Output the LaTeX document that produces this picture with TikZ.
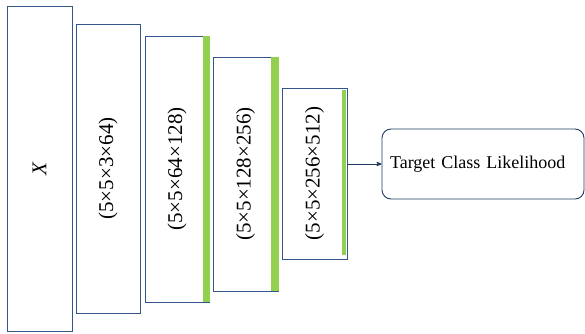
\documentclass[tikz,border=0pt]{standalone}
\usepackage{fontspec}
\setmainfont{Liberation Serif}
\usetikzlibrary{arrows}
\definecolor{boxline}{RGB}{52,84,140}
\definecolor{outline}{RGB}{31,56,100}
\definecolor{bargreen}{RGB}{146,208,80}

\begin{document}
\begin{tikzpicture}[x=1pt,y=-1pt,>=stealth',line width=0.9pt]

        \tikzstyle{layer}=[draw=boxline,fill=white,inner sep=0pt,font=\fontsize{21}{25}\selectfont]
        \tikzstyle{outbox}=[draw=outline,rounded corners=9pt,inner sep=8pt,text width=186pt,align=left,minimum height=70pt,font=\fontsize{18}{22}\selectfont]

        \useasboundingbox (0,0) rectangle (585,333);

        \node[layer, minimum width=65pt, minimum height=325pt] (0) at (39.5,168.5) {\rotatebox{90}{\textit{X}}};
        \node[layer, minimum width=64pt, minimum height=289pt] (1) at (108,168.5)  {\rotatebox{90}{(5×5×3×64)}};
        \node[layer, minimum width=64pt, minimum height=266pt] (2) at (177,169)    {\rotatebox{90}{(5×5×64×128)}};
        \node[layer, minimum width=65pt, minimum height=234pt] (3) at (245.5,174)  {\rotatebox{90}{(5×5×128×256)}};
        \node[layer, minimum width=65pt, minimum height=171pt] (4) at (314.5,173.5){\rotatebox{90}{(5×5×256×512)}};

        \node[outbox] (5) at (483,164) {Target Class Likelihood};

        % green strips
        \fill[bargreen] ([xshift=-6pt]2.north east) rectangle ([xshift=0.5pt]2.south east);
        \fill[bargreen] ([xshift=-7pt]3.north east) rectangle ([xshift=0.5pt]3.south east);
        \fill[bargreen] ([xshift=-5pt,yshift=-2pt]4.north east) rectangle ([xshift=-1pt,yshift=4pt]4.south east);

        \draw[->,draw=outline,line width=0.8pt] (4.east |- 5.west) -- (5.west);

\end{tikzpicture}
\end{document}
